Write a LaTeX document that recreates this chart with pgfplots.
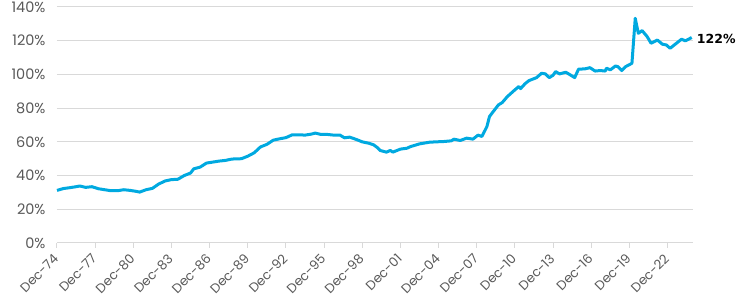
\documentclass[border=0pt]{standalone}
\usepackage{fontspec}
\setmainfont{Poppins}
\newfontfamily\labfont{DejaVu Sans}
\usepackage{pgfplots}
\pgfplotsset{compat=1.18}
\definecolor{lineblue}{HTML}{00A9E0}
\definecolor{gridgray}{HTML}{D9D9D9}
\definecolor{ticktext}{HTML}{595959}
\begin{document}
\begin{tikzpicture}
\begin{axis}[
  at={(0,0)}, anchor=south west,
  scale only axis,
  width=636pt, height=236pt,
  xmin=0, xmax=50,
  ymin=0, ymax=140,
  axis x line*=bottom,
  axis y line*=left,
  x axis line style={gridgray, line width=1pt},
  y axis line style={draw=none},
  ymajorgrids, grid style={gridgray, line width=1pt},
  ytick={0,20,...,140},
  yticklabel={\pgfmathprintnumber{\tick}\%},
  /pgf/number format/assume math mode=true,
  yticklabel style={font=\fontsize{14.5}{16}\selectfont, text=ticktext, xshift=-3pt},
  xtick={0,3,...,48},
  xticklabels={Dec-74,Dec-77,Dec-80,Dec-83,Dec-86,Dec-89,Dec-92,Dec-95,Dec-98,Dec-01,Dec-04,Dec-07,Dec-10,Dec-13,Dec-16,Dec-19,Dec-22},
  xticklabel style={yshift=-6pt, xshift=1.5pt, rotate=45, anchor=east, font=\fontsize{13}{15}\selectfont, text=ticktext},
  x tick style={gridgray, line width=1pt},
  tick align=outside,
  major tick length=5pt,
  ytick style={draw=none},
  clip=false,
]
\addplot[lineblue, line width=3pt, line join=round] coordinates {
(0,31.2) (0.5,32.3) (1.0,32.8) (1.5,33.4) (1.8,33.8) (2.25,33.0) (2.75,33.4) (3.25,32.2) (3.75,31.6) (4.25,31.0) (4.75,31.0) (5.25,31.6) (5.75,31.2) (6.25,30.6) (6.5,30.2) (7.0,31.6) (7.5,32.4) (8.0,35.0) (8.5,36.8) (9.0,37.6) (9.5,37.8) (10.0,40.0) (10.5,41.5) (10.75,44.0) (11.25,45.0) (11.75,47.4) (12.25,48.0) (12.75,48.6) (13.25,49.0) (13.75,49.8) (14.5,50.0) (15.0,51.5) (15.5,53.5) (16.0,57.0) (16.5,58.5) (17.0,61.0) (17.5,61.8) (18.0,62.5) (18.5,64.2) (19.0,64.2) (19.5,64.0) (20.0,64.6) (20.3,65.2) (20.75,64.4) (21.25,64.4) (21.75,64.0) (22.25,64.0) (22.6,62.4) (23.0,62.8) (23.5,61.5) (24.0,60.0) (24.5,59.2) (24.9,58.2) (25.2,56.5) (25.4,54.9) (25.9,53.9) (26.2,54.9) (26.4,53.9) (27.0,55.7) (27.5,56.2) (27.8,57.2) (28.5,58.8) (29.3,59.8) (29.8,60.0) (30.4,60.2) (31.0,60.6) (31.2,61.6) (31.7,60.8) (32.2,62.2) (32.7,61.6) (33.1,64.0) (33.4,63.2) (33.6,66.1) (33.8,69.1) (34.0,75) (34.3,78) (34.7,81.9) (35.0,83.3) (35.4,86.8) (35.9,90.2) (36.3,92.8) (36.45,91.6) (36.8,94.5) (37.1,96.3) (37.7,98.1) (38.1,100.7) (38.4,100.3) (38.7,98.1) (39.0,99.5) (39.2,101.7) (39.5,100.3) (40.0,101.3) (40.4,99.5) (40.7,98.1) (41.0,103.1) (41.5,103.3) (41.9,104.0) (42.3,102.0) (42.7,102.3) (43.1,102.0) (43.2,103.7) (43.5,102.7) (43.9,105) (44.1,104.6) (44.4,102.3) (44.7,104.6) (45.2,106.6) (45.46,133.3) (45.7,124.4) (46.0,126) (46.4,122.4) (46.7,118.5) (47.2,120.4) (47.6,117.9) (47.9,117.5) (48.2,115.5) (48.6,117.9) (49.1,120.9) (49.4,119.9) (49.9,121.9)
};
\node[anchor=west, font=\labfont\bfseries\fontsize{12.5}{14}\selectfont, inner sep=0pt, xshift=5pt, yshift=-1pt] at (axis cs:49.9,121.9) {122\%};
\end{axis}
\pgfresetboundingbox
\path (-57pt,-56pt) rectangle (683pt,243pt);
\end{tikzpicture}
\end{document}
